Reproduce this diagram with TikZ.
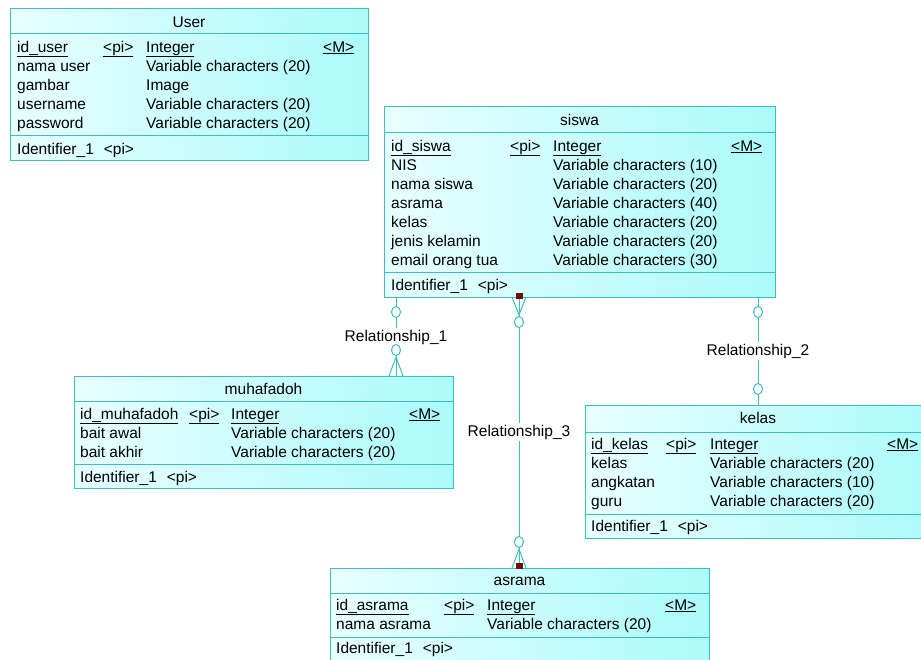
\documentclass[tikz,border=0pt]{standalone}
\usepackage{fontspec}
\setmainfont{Liberation Sans}
\usetikzlibrary{positioning,shapes.geometric}

\definecolor{boxline}{RGB}{60,190,190}
\definecolor{boxlight}{RGB}{232,255,255}
\definecolor{boxdark}{RGB}{172,250,250}
\definecolor{keymark}{RGB}{110,12,12}

\tikzset{
 entity/.style={draw=boxline, line width=1pt, left color=boxlight, right color=boxdark,
   anchor=north west, inner sep=0pt, outer sep=0pt},
 field/.style={anchor=base west, inner sep=0pt, font=\fontsize{15.5}{17}\selectfont},
 title/.style={anchor=base, inner sep=0pt, font=\fontsize{15.5}{17}\selectfont},
 rel/.style={draw=boxline, line width=1pt},
 ring/.style={draw=boxline, line width=1pt, fill=white, ellipse,
   inner sep=0pt, minimum width=9pt, minimum height=11pt},
 rellabel/.style={fill=white, inner sep=2pt, font=\fontsize{15.5}{17}\selectfont},
 keybox/.style={fill=keymark, inner sep=0pt, minimum width=7pt, minimum height=6pt}
}

\begin{document}
\begin{tikzpicture}[x=1pt, y=-1pt]
 \useasboundingbox (0,0) rectangle (921,659);
 \fill[white] (0,0) rectangle (921,659);

 % User
 \node[entity, minimum width=358pt, minimum height=152pt] (user) at (10,8) {};
 \draw[boxline, line width=1pt] (10,33) -- (368,33) (10,135) -- (368,135);
 \node[title] (usert) at (189,27) {User};
 \node[field] (u1) at (17,52) {\underline{id\_user}};
 \node[field] (u1p) at (103,52) {\underline{<pi>}};
 \node[field] (u1t) at (146,52) {\underline{Integer}};
 \node[field] (u1m) at (323,52) {\underline{<M>}};
 \node[field] (u2) at (17,71) {nama user};
 \node[field] (u2t) at (146,71) {Variable characters (20)};
 \node[field] (u3) at (17,90) {gambar};
 \node[field] (u3t) at (146,90) {Image};
 \node[field] (u4) at (17,109) {username};
 \node[field] (u4t) at (146,109) {Variable characters (20)};
 \node[field] (u5) at (17,128) {password};
 \node[field] (u5t) at (146,128) {Variable characters (20)};
 \node[field] (uid) at (17,154) {Identifier\_1\hspace{10pt}<pi>};

 % siswa
 \node[entity, minimum width=391pt, minimum height=191pt] (siswa) at (384,106) {};
 \draw[boxline, line width=1pt] (384,132) -- (775,132) (384,272) -- (775,272);
 \node[title] (siswat) at (579.5,125) {siswa};
 \node[field] (s1) at (391,151) {\underline{id\_siswa}};
 \node[field] (s1p) at (510,151) {\underline{<pi>}};
 \node[field] (s1t) at (553,151) {\underline{Integer}};
 \node[field] (s1m) at (731,151) {\underline{<M>}};
 \node[field] (s2) at (391,170) {NIS};
 \node[field] (s2t) at (553,170) {Variable characters (10)};
 \node[field] (s3) at (391,189) {nama siswa};
 \node[field] (s3t) at (553,189) {Variable characters (20)};
 \node[field] (s4) at (391,208) {asrama};
 \node[field] (s4t) at (553,208) {Variable characters (40)};
 \node[field] (s5) at (391,227) {kelas};
 \node[field] (s5t) at (553,227) {Variable characters (20)};
 \node[field] (s6) at (391,246) {jenis kelamin};
 \node[field] (s6t) at (553,246) {Variable characters (20)};
 \node[field] (s7) at (391,265) {email orang tua};
 \node[field] (s7t) at (553,265) {Variable characters (30)};
 \node[field] (sid) at (391,290) {Identifier\_1\hspace{10pt}<pi>};

 % muhafadoh
 \node[entity, minimum width=379pt, minimum height=112pt] (muhafadoh) at (74,376) {};
 \draw[boxline, line width=1pt] (74,401) -- (453,401) (74,464) -- (453,464);
 \node[title] (muhafadoht) at (263.5,394) {muhafadoh};
 \node[field] (m1) at (80,419) {\underline{id\_muhafadoh}};
 \node[field] (m1p) at (189,419) {\underline{<pi>}};
 \node[field] (m1t) at (231,419) {\underline{Integer}};
 \node[field] (m1m) at (409,419) {\underline{<M>}};
 \node[field] (m2) at (80,438) {bait awal};
 \node[field] (m2t) at (231,438) {Variable characters (20)};
 \node[field] (m3) at (80,457) {bait akhir};
 \node[field] (m3t) at (231,457) {Variable characters (20)};
 \node[field] (mid) at (80,482) {Identifier\_1\hspace{10pt}<pi>};

 % kelas
 \node[entity, minimum width=346pt, minimum height=133pt] (kelas) at (585,405) {};
 \draw[boxline, line width=1pt] (585,432) -- (931,432) (585,514) -- (931,514);
 \node[title] (kelast) at (758,423) {kelas};
 \node[field] (k1) at (591,449) {\underline{id\_kelas}};
 \node[field] (k1p) at (666,449) {\underline{<pi>}};
 \node[field] (k1t) at (710,449) {\underline{Integer}};
 \node[field] (k1m) at (887,449) {\underline{<M>}};
 \node[field] (k2) at (591,468) {kelas};
 \node[field] (k2t) at (710,468) {Variable characters (20)};
 \node[field] (k3) at (591,487) {angkatan};
 \node[field] (k3t) at (710,487) {Variable characters (10)};
 \node[field] (k4) at (591,506) {guru};
 \node[field] (k4t) at (710,506) {Variable characters (20)};
 \node[field] (kid) at (591,531) {Identifier\_1\hspace{10pt}<pi>};

 % asrama
 \node[entity, minimum width=379pt, minimum height=100pt] (asrama) at (330,568) {};
 \draw[boxline, line width=1pt] (330,593) -- (709,593) (330,637) -- (709,637);
 \node[title] (asramat) at (519.5,585) {asrama};
 \node[field] (a1) at (336,610) {\underline{id\_asrama}};
 \node[field] (a1p) at (444,610) {\underline{<pi>}};
 \node[field] (a1t) at (487,610) {\underline{Integer}};
 \node[field] (a1m) at (665,610) {\underline{<M>}};
 \node[field] (a2) at (336,629) {nama asrama};
 \node[field] (a2t) at (487,629) {Variable characters (20)};
 \node[field] (aid) at (336,653) {Identifier\_1\hspace{10pt}<pi>};

 % Relationship_1
 \coordinate (r1a) at (396,297);
 \coordinate (r1b) at (396,376);
 \node[rellabel] (rel1) at (396,337) {Relationship\_1};
 \draw[rel] (r1a) -- (rel1) -- (r1b);
 \node[ring] (r1ca) at (396,312) {};
 \node[ring] (r1cb) at (396,350) {};
 \coordinate (r1f) at (396,357);
 \draw[rel] (r1f) -- (389,376) (r1f) -- (403,376);

 % Relationship_2
 \coordinate (r2a) at (758,297);
 \coordinate (r2b) at (758,405);
 \node[rellabel] (rel2) at (758,351) {Relationship\_2};
 \draw[rel] (r2a) -- (rel2) -- (r2b);
 \node[ring] (r2ca) at (758,312) {};
 \node[ring] (r2cb) at (758,389) {};

 % Relationship_3
 \coordinate (r3a) at (519,297);
 \coordinate (r3b) at (519,568);
 \node[rellabel] (rel3) at (519,432) {Relationship\_3};
 \draw[rel] (r3a) -- (rel3) -- (r3b);
 \coordinate (r3fa) at (519,315);
 \draw[rel] (r3fa) -- (512,297) (r3fa) -- (526,297);
 \node[ring] (r3ca) at (519,322) {};
 \coordinate (r3fb) at (519,549);
 \draw[rel] (r3fb) -- (512,568) (r3fb) -- (526,568);
 \node[ring] (r3cb) at (519,542) {};
 \node[keybox] (k3a) at (519,296) {};
 \node[keybox] (k3b) at (519,566) {};
\end{tikzpicture}
\end{document}
